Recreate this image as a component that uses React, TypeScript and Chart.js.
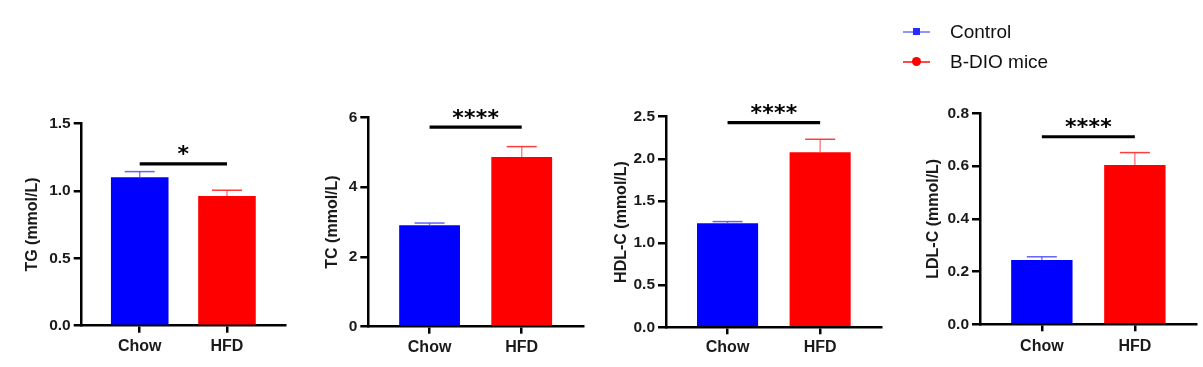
import React, { useEffect, useRef } from 'react';
import { Chart, registerables } from 'chart.js';

Chart.register(...registerables);

// ---------- data ----------
const categories = ['Chow', 'HFD'];
const seriesNames = ['Control', 'B-DIO mice'];
const panelTitles = ['TG (mmol/L)', 'TC (mmol/L)', 'HDL-C (mmol/L)', 'LDL-C (mmol/L)'];
const chowMeans = [1.1, 2.91, 1.235, 0.244];
const hfdMeans = [0.961, 4.86, 2.078, 0.604];
const chowErrors = [0.042, 0.06, 0.02, 0.012];
const hfdErrors = [0.043, 0.3, 0.154, 0.047];
const sigLevels = [1.2, 5.72, 2.43, 0.711];
const sigLabels = ['*', '****', '****', '****'];
const yMaxes = [1.5, 6, 2.5, 0.8];
const ySteps = [0.5, 2, 0.5, 0.2];
const yDecimals = [1, 0, 1, 1];

// ---------- styles / layout ----------
const barColors = ['#0000ff', '#ff0000'];
const errColors = ['rgba(70,70,255,0.85)', 'rgba(255,40,40,0.9)'];
const stemColors = ['rgba(70,70,255,0.7)', 'rgba(255,90,90,0.75)'];
const legendLineColors = ['rgba(90,90,255,0.65)', 'rgba(255,40,40,0.85)'];
const FONT = 'Arial, "Liberation Sans", Helvetica, sans-serif';
const TITLE_SIZE = 16;
const X_AXIS_H = 38;
const CANVAS_H = 367;

const panelLayout = [
  { axisX: 81.7, axisEnd: 285, top: 123.3, zero: 325.7, titleGap: 48.7, labelPad: 4 },
  { axisX: 368.3, axisEnd: 583, top: 117.3, zero: 326.7, titleGap: 35.3, labelPad: 4 },
  { axisX: 666, axisEnd: 881.7, top: 116.7, zero: 327.3, titleGap: 44.3, labelPad: 4 },
  { axisX: 980, axisEnd: 1196.7, top: 113.3, zero: 324.3, titleGap: 46.7, labelPad: 6 },
];

function makeOverlay(i: number) {
  return {
    id: 'overlay' + i,
    afterDatasetsDraw(chart: any) {
      const ctx = chart.ctx;
      const ys = chart.scales.y;
      const meta = chart.getDatasetMeta(0);
      const means = [chowMeans[i], hfdMeans[i]];
      const errs = [chowErrors[i], hfdErrors[i]];
      ctx.save();
      meta.data.forEach((el: any, k: number) => {
        const x = el.x;
        const yTop = ys.getPixelForValue(means[k] + errs[k]);
        const yBar = ys.getPixelForValue(means[k]);
        ctx.strokeStyle = stemColors[k];
        ctx.lineWidth = 1.5;
        ctx.beginPath();
        ctx.moveTo(x, yBar);
        ctx.lineTo(x, yTop);
        ctx.stroke();
        ctx.strokeStyle = errColors[k];
        ctx.beginPath();
        ctx.moveTo(x - 15, yTop);
        ctx.lineTo(x + 15, yTop);
        ctx.stroke();
      });
      // significance bracket
      const x0 = meta.data[0].x;
      const x1 = meta.data[1].x;
      const ly = ys.getPixelForValue(sigLevels[i]);
      ctx.strokeStyle = '#000';
      ctx.lineWidth = 3.2;
      ctx.beginPath();
      ctx.moveTo(x0, ly);
      ctx.lineTo(x1, ly);
      ctx.stroke();
      ctx.fillStyle = '#000';
      ctx.font = 'bold 22px "DejaVu Sans"';
      ctx.textAlign = 'center';
      ctx.textBaseline = 'alphabetic';
      const m = ctx.measureText('*');
      const cy = ly - 13.5;
      const base = cy + (m.actualBoundingBoxAscent - m.actualBoundingBoxDescent) / 2;
      const label = sigLabels[i];
      const n = label.length;
      const cx = (x0 + x1) / 2;
      for (let k = 0; k < n; k++) {
        ctx.fillText(label[k], cx + (k - (n - 1) / 2) * 11.7, base);
      }
      ctx.restore();
    },
  };
}

function Panel({ i }: { i: number }) {
  const ref = useRef<HTMLCanvasElement>(null);
  const L = panelLayout[i];
  const yW = L.titleGap + (TITLE_SIZE * 1.2) / 2;
  const canvasLeft = Math.floor(L.axisX - yW - 4);
  const padLeft = L.axisX - yW - canvasLeft;
  const canvasW = Math.ceil(L.axisEnd - canvasLeft + 6);
  const padRight = canvasW - (L.axisEnd - canvasLeft);
  const padTop = L.top;
  const padBottom = CANVAS_H - L.zero - X_AXIS_H;

  useEffect(() => {
    if (!ref.current) return;
    const chart = new Chart(ref.current, {
      type: 'bar',
      data: {
        datasets: [
          {
            data: [
              { x: 0, y: chowMeans[i] },
              { x: 1, y: hfdMeans[i] },
            ],
            backgroundColor: barColors,
            borderWidth: 0,
            categoryPercentage: 1,
            barPercentage: 0.66,
          },
        ],
      },
      options: {
        responsive: false,
        animation: false,
        layout: { padding: { left: padLeft, right: padRight, top: padTop, bottom: padBottom } },
        plugins: { legend: { display: false }, tooltip: { enabled: false } },
        scales: {
          x: {
            type: 'linear',
            offset: false,
            min: -0.665,
            max: 1.665,
            afterBuildTicks: (s: any) => {
              s.ticks = categories.map((_, k) => ({ value: k }));
            },
            afterFit: (s: any) => {
              s.height = X_AXIS_H;
            },
            ticks: {
              callback: (v: any) => categories[v] ?? '',
              color: '#1a1a1a',
              font: { family: FONT, size: 16, weight: 'bold' },
              padding: L.labelPad,
              maxRotation: 0,
              autoSkip: false,
            },
            grid: {
              offset: false,
              drawOnChartArea: false,
              drawTicks: true,
              tickLength: 7,
              color: '#000',
              lineWidth: 2.5,
            },
            border: { display: true, color: '#000', width: 2.5 },
          },
          y: {
            min: 0,
            max: yMaxes[i],
            afterFit: (s: any) => {
              s.width = yW;
            },
            ticks: {
              stepSize: ySteps[i],
              callback: (v: any) => Number(v).toFixed(yDecimals[i]),
              color: '#1a1a1a',
              font: { family: FONT, size: 15.5, weight: 'bold' },
              padding: 3,
            },
            grid: {
              drawOnChartArea: false,
              drawTicks: true,
              tickLength: 8,
              color: '#000',
              lineWidth: 2.5,
            },
            border: { display: true, color: '#000', width: 2.5 },
            title: {
              display: true,
              text: panelTitles[i],
              color: '#1a1a1a',
              font: { family: FONT, size: TITLE_SIZE, weight: 'bold' },
              padding: { top: 0, bottom: 0 },
            },
          },
        },
      },
      plugins: [makeOverlay(i)],
    } as any);
    return () => chart.destroy();
  }, [i]);

  return (
    <canvas
      ref={ref}
      width={canvasW}
      height={CANVAS_H}
      style={{ position: 'absolute', left: canvasLeft, top: 0, width: canvasW, height: CANVAS_H }}
    />
  );
}

function Legend() {
  const rows = [31.7, 61.7];
  return (
    <>
      {seriesNames.map((name, k) => (
        <div key={name}>
          <div
            style={{
              position: 'absolute',
              left: 903,
              top: rows[k] - 1,
              width: 27,
              height: 2,
              background: legendLineColors[k],
            }}
          />
          <div
            style={{
              position: 'absolute',
              left: k === 0 ? 913 : 912,
              top: rows[k] - (k === 0 ? 3.5 : 4.5),
              width: k === 0 ? 7 : 9,
              height: k === 0 ? 7 : 9,
              borderRadius: k === 0 ? 0 : '50%',
              background: k === 0 ? '#2a2aff' : '#ff0000',
            }}
          />
          <div
            style={{
              position: 'absolute',
              left: 950,
              top: rows[k] - 12,
              height: 24,
              lineHeight: '24px',
              fontFamily: FONT,
              fontSize: 19,
              color: '#111',
              whiteSpace: 'nowrap',
            }}
          >
            {name}
          </div>
        </div>
      ))}
    </>
  );
}

export default function App() {
  return (
    <div
      style={{
        position: 'absolute',
        left: 0,
        top: 0,
        width: 1203,
        height: 367,
        background: '#fff',
        overflow: 'hidden',
      }}
    >
      {panelTitles.map((_, i) => (
        <Panel key={i} i={i} />
      ))}
      <Legend />
    </div>
  );
}
